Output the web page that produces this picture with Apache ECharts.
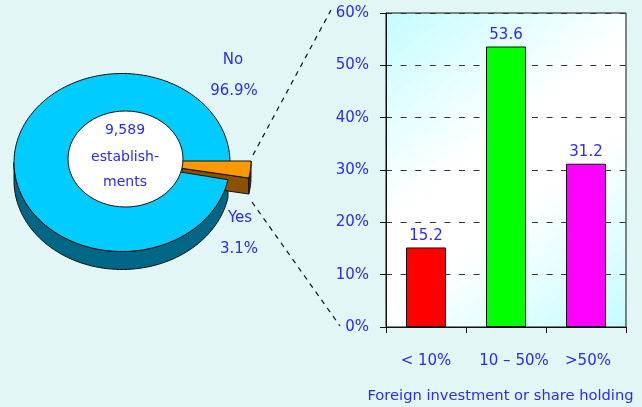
<!DOCTYPE html>
<html><head><meta charset="utf-8">
<style>html,body{margin:0;padding:0;background:#E2F6F5}#c{width:642px;height:407px}</style>
<script src="https://cdn.jsdelivr.net/npm/echarts@6/dist/echarts.min.js"></script>
</head><body><div id="c"></div>
<script>
const categories = ['< 10%', '10 – 50%', '>50%'];
const barValues = [15.2, 53.6, 31.2];
const barColors = ['#FF0000', '#00FF00', '#FF00FF'];
const pieNames = ['No', 'Yes'];
const pieShares = [96.9, 3.1];
const pieCentreLines = ['9,589', 'establish-', 'ments'];
const axisTitle = 'Foreign investment or share holding';
const FONT = 'DejaVu Sans';
const BLUE = '#2A2AFF';

const chart = echarts.init(document.getElementById('c'), null, {renderer: 'canvas'});

function arc(cx, cy, rx, ry, a0, a1, n) {
  const pts = [];
  for (let i = 0; i <= n; i++) {
    const a = (a0 + (a1 - a0) * i / n) * Math.PI / 180;
    pts.push([cx + rx * Math.cos(a), cy - ry * Math.sin(a)]);
  }
  return pts;
}
const down = (pts, d) => pts.map(p => [p[0], p[1] + d]);
function poly(points, fill) {
  return {type: 'polygon', shape: {points}, style: {fill, stroke: '#111', lineWidth: 1}};
}
function txt(x, y, text, size) {
  return {type: 'text', style: {x, y, text, fill: BLUE, font: (size || 15) + 'px "' + FONT + '"', align: 'center', verticalAlign: 'middle'}};
}
function dashed(x1, y1, x2, y2) {
  return {type: 'line', shape: {x1, y1, x2, y2}, style: {stroke: '#111', lineWidth: 1.2, lineDash: [5, 5]}};
}

function renderPie() {
  const gap = 360 * pieShares[1] / (pieShares[0] + pieShares[1]);
  const cx = 122, cy = 162.5, rx = 108, ry = 89, depth = 18;
  const sx = 132, sy = 161, srx = 119, sry = 88;
  const kids = [];
  const frontArc = arc(cx, cy, rx, ry, -gap, -180, 80);
  kids.push(poly(frontArc.concat(down(frontArc, depth).reverse()), '#006685'));
  const sArc = arc(sx, sy, srx, sry, 0, -gap, 12);
  const sEnd = sArc[sArc.length - 1];
  const cutInner = [sx + (sEnd[0] - sx) * 0.43, sy + (sEnd[1] - sy) * 0.43];
  kids.push(poly([cutInner, sEnd, [sEnd[0], sEnd[1] + 16], [cutInner[0], cutInner[1] + 16]], '#8A5200'));
  kids.push(poly(sArc.concat(down(sArc, 16).reverse()), '#4A2E00'));
  const top = arc(cx, cy, rx, ry, 0, 360 - gap, 160);
  kids.push(poly([[cx, cy]].concat(top), '#00CCFF'));
  kids.push(poly([[sx, sy]].concat(sArc), '#FF9900'));
  kids.push({type: 'ellipse', shape: {cx: 125.5, cy: 159, rx: 57.5, ry: 48}, style: {fill: '#fff', stroke: '#111', lineWidth: 1}});
  kids.push(dashed(253, 155, 331, 10));
  kids.push(dashed(252, 202, 340, 326));
  kids.push(txt(233, 60, pieNames[0]));
  kids.push(txt(234, 91, pieShares[0].toFixed(1) + '%'));
  kids.push(txt(240, 218, pieNames[1]));
  kids.push(txt(239, 249, pieShares[1].toFixed(1) + '%'));
  pieCentreLines.forEach((t, i) => kids.push(txt(125, [130, 157, 182][i], t, 14)));
  return {type: 'group', children: kids};
}

chart.setOption({
  animation: false,
  backgroundColor: '#E2F6F5',
  textStyle: {fontFamily: FONT},
  grid: {
    left: 386, top: 13, width: 240, height: 314, show: true, borderColor: '#111', borderWidth: 1,
    outerBoundsMode: 'none',
    backgroundColor: new echarts.graphic.LinearGradient(0, 0, 1, 1, [
      {offset: 0, color: '#C4FCFF'}, {offset: 0.42, color: '#FFFFFF'}, {offset: 0.6, color: '#FFFFFF'}, {offset: 1, color: '#C4FCFF'}
    ])
  },
  xAxis: {
    type: 'category', data: categories,
    axisLine: {lineStyle: {color: '#111'}},
    axisTick: {show: true, alignWithLabel: false, length: 6, lineStyle: {color: '#111'}},
    axisLabel: {
      margin: 27, color: BLUE, fontSize: 15, interval: 0, fontFamily: FONT,
      formatter: (v, i) => '{s' + i + '|' + v + '}',
      rich: {
        s0: {color: BLUE, fontSize: 15, fontFamily: FONT},
        s1: {color: BLUE, fontSize: 15, fontFamily: FONT, padding: [0, 0, 0, 16]},
        s2: {color: BLUE, fontSize: 15, fontFamily: FONT, padding: [0, 0, 0, 4]}
      }
    },
    name: axisTitle, nameLocation: 'middle', nameGap: 62,
    nameTextStyle: {color: BLUE, fontSize: 14.7, fontFamily: FONT, padding: [0, 11, 0, 0]}
  },
  yAxis: {
    type: 'value', min: 0, max: 60, interval: 10,
    axisLine: {show: true, lineStyle: {color: '#111'}},
    axisTick: {show: true, length: 6, lineStyle: {color: '#111'}},
    axisLabel: {margin: 17, color: BLUE, fontSize: 15, fontFamily: FONT, formatter: '{value}%'},
    splitLine: {show: true, lineStyle: {color: '#333', type: [6, 8.6], width: 1}}
  },
  series: [
    {
      type: 'bar', barWidth: '50%', z: 3,
      data: barValues.map((v, i) => ({value: v, itemStyle: {color: barColors[i], borderColor: '#111', borderWidth: 1}})),
      label: {show: true, position: 'top', distance: 4, color: BLUE, fontSize: 15, fontFamily: FONT, formatter: p => p.value.toFixed(1)}
    },
    {type: 'custom', coordinateSystem: 'none', data: [0], silent: true, z: 5, renderItem: renderPie}
  ]
});
</script></body></html>
